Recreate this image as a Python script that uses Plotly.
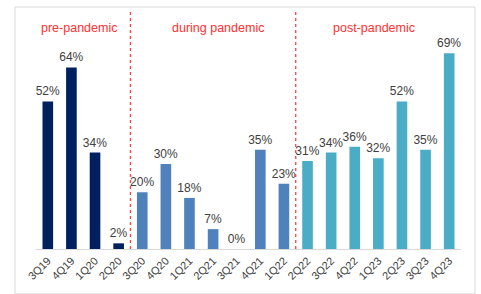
import plotly.graph_objects as go

quarters = ["3Q19", "4Q19", "1Q20", "2Q20", "3Q20", "4Q20", "1Q21", "2Q21", "3Q21",
            "4Q21", "1Q22", "2Q22", "3Q22", "4Q22", "1Q23", "2Q23", "3Q23", "4Q23"]
values = [52, 64, 34, 2, 20, 30, 18, 7, 0, 35, 23, 31, 34, 36, 32, 52, 35, 69]
periods = ["pre"] * 4 + ["during"] * 7 + ["post"] * 7
period_colors = {"pre": "#002060", "during": "#4F81BD", "post": "#4BACC6"}
period_titles = ["pre-pandemic", "during pandemic", "post-pandemic"]

colors = [period_colors[p] for p in periods]

fig = go.Figure(go.Bar(
    x=quarters, y=values, marker_color=colors, marker_line_width=0,
    text=[f"{v}%" for v in values], textposition="outside", constraintext="none",
    textfont=dict(size=12, color="#404040", family="Liberation Sans, Arial"),
    cliponaxis=False, width=0.45,
))

# dashed separators
for xpos in [3.5, 10.5]:
    fig.add_shape(type="line", xref="x", yref="paper", x0=xpos, x1=xpos, y0=0, y1=1.05,
                  line=dict(color="#FF4040", width=1.3, dash="dot"))

# period titles
for title, xc in zip(period_titles, [1.3, 7.2, 13.8]):
    fig.add_annotation(text=title, x=xc, y=0.973, xref="x", yref="paper", showarrow=False,
                       yanchor="middle", xanchor="center",
                       font=dict(size=12.5, color="#FF3030", family="Liberation Sans, Arial"))

# chart frame
fig.add_shape(type="rect", xref="paper", yref="paper",
              x0=-21/425, x1=(475-36)/425, y0=-45/227, y1=(249-7)/227,
              line=dict(color="#D9D9D9", width=1))

fig.update_layout(
    width=481, height=294, margin=dict(l=36, r=20, t=22, b=45, autoexpand=False),
    plot_bgcolor="white", paper_bgcolor="white", showlegend=False,
    bargap=0.55,
    xaxis=dict(tickangle=-45, tickfont=dict(size=11, color="#404040", family="Liberation Sans, Arial"),
               showline=True, linecolor="#D9D9D9", ticks="", showgrid=False, automargin=False),
    yaxis=dict(range=[0, 80], visible=False, showgrid=False, automargin=False),
)

fig.write_html("out.html", config={"displayModeBar": False},
               post_script="document.body.style.margin='0';")
